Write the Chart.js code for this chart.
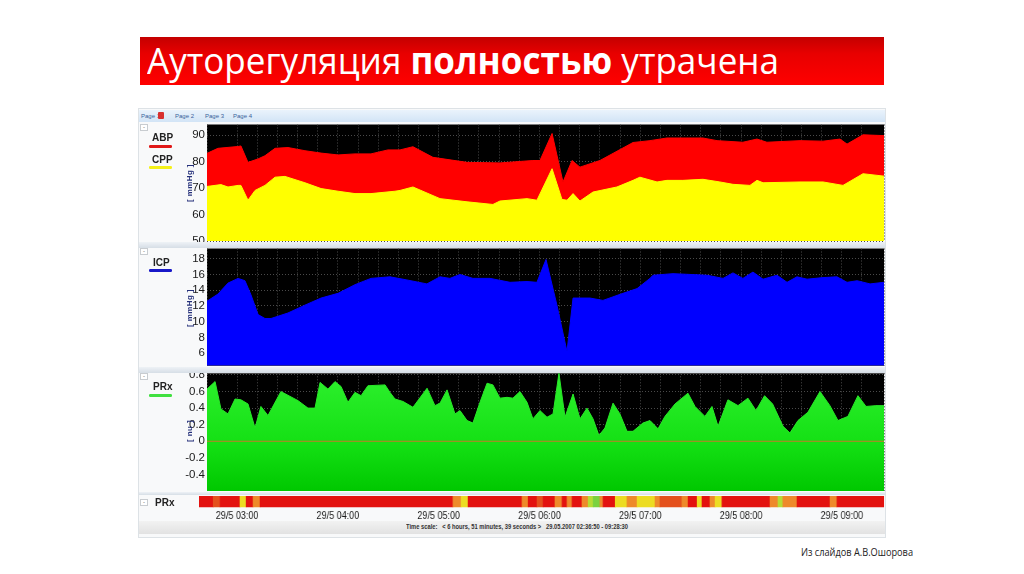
<!DOCTYPE html>
<html><head><meta charset="utf-8">
<script src="https://cdn.jsdelivr.net/npm/chart.js@4.4.1/dist/chart.umd.min.js"></script>
<style>
html,body{margin:0;padding:0}
body{width:1024px;height:574px;position:relative;overflow:hidden;background:#fff;font-family:'Liberation Sans',Arial,sans-serif}
.a{position:absolute}
#banner{left:140px;top:37px;width:744px;height:48px;background:linear-gradient(180deg,#c40000 0%,#e80000 35%,#ff0000 100%)}
#titleText{left:147px;top:35px;color:#fff;font-family:'Open Sans',sans-serif;font-size:37px;white-space:nowrap;transform-origin:0 0;line-height:50px}
#panel{left:138px;top:108px;width:748px;height:430px;background:#f8f9fa;border:1px solid #dde2e6;box-sizing:border-box}
#tabs{left:139px;top:110px;width:746px;height:12px;background:linear-gradient(#eaf3fc,#d2e4f6)}
.tab{font-size:6px;color:#3a5f9a;top:113px;white-space:nowrap}
.lg{font-family:'Liberation Sans Narrow','Liberation Sans',sans-serif;font-weight:bold;font-size:10px;color:#222;line-height:10px}
.bar{height:2.5px;border-radius:1.2px;width:23px;left:149px}
.unit{font-size:8px;font-weight:bold;color:#25307a;transform:rotate(-90deg);white-space:nowrap;text-align:center;width:50px;height:8px;line-height:8px;letter-spacing:0.4px}
.btn{width:6px;height:5px;border:1px solid #c8ccd0;background:#fff;font-size:6px;line-height:4px;text-align:center;color:#555}
.sep{left:139px;width:746px;background:linear-gradient(#eef2f6,#d6dee6);z-index:2}
#tscale{left:139px;top:521px;width:746px;height:13px;background:linear-gradient(#f2f2f2,#e2e2e2)}
#tstext{left:406px;top:523px;font-size:6.5px;font-weight:bold;color:#333;white-space:nowrap;transform-origin:0 0}
#caption{left:801px;top:545px;font-family:'Open Sans',sans-serif;font-size:10px;color:#222;white-space:nowrap;transform-origin:0 0}
canvas{position:absolute}
</style></head><body>
<div id="banner" class="a"></div>
<div id="titleText" class="a">Ауторегуляция <b>полностью</b> утрачена</div>
<div id="panel" class="a"></div>
<div id="tabs" class="a"></div>
<div class="a tab" style="left:141px">Page 1</div>
<div class="a" style="left:158px;top:112px;width:6px;height:7px;background:#d83030;border-radius:1px"></div>
<div class="a tab" style="left:175px">Page 2</div>
<div class="a tab" style="left:205px">Page 3</div>
<div class="a tab" style="left:233px">Page 4</div>

<canvas id="c1" width="750" height="123" style="left:138px;top:121px"></canvas>
<canvas id="c2" width="750" height="122" style="left:138px;top:246px"></canvas>
<canvas id="c3" width="750" height="123" style="left:138px;top:371px"></canvas>
<canvas id="c4" width="840" height="27" style="left:199px;top:496px;width:689px;height:27px"></canvas>

<div class="a sep" style="top:242px;height:6px"></div>
<div class="a sep" style="top:367px;height:6px"></div>
<div class="a sep" style="top:492px;height:3px"></div>

<div class="a btn" style="left:140px;top:124px">-</div>
<div class="a btn" style="left:140px;top:248px;z-index:3">-</div>
<div class="a btn" style="left:140px;top:373px;z-index:3">-</div>
<div class="a btn" style="left:140px;top:499px">-</div>

<div class="a lg" style="left:152px;top:133px">ABP</div>
<div class="a bar" style="top:145px;background:#e01818"></div>
<div class="a lg" style="left:152px;top:155px">CPP</div>
<div class="a bar" style="top:166px;background:#f4f018"></div>
<div class="a lg" style="left:153px;top:258px">ICP</div>
<div class="a bar" style="top:269px;background:#1818c8"></div>
<div class="a lg" style="left:153px;top:382px">PRx</div>
<div class="a bar" style="top:394px;background:#40e040"></div>
<div class="a lg" style="left:155px;top:498px">PRx</div>

<div class="a unit" style="left:165px;top:179px">[ mmHg ]</div>
<div class="a unit" style="left:165px;top:304px">[ mmHg ]</div>
<div class="a unit" style="left:165px;top:427px">[ nu ]</div>

<div id="tscale" class="a"></div>
<div id="tstext" class="a">Time scale:&nbsp;&nbsp; &lt; 6 hours, 51 minutes, 39 seconds &gt;&nbsp;&nbsp; 29.05.2007 02:36:50 - 09:28:30</div>
<div id="caption" class="a">Из слайдов А.В.Ошорова</div>

<script>
// time in minutes after 02:00 on 29/5
const X_MIN = 42.1, X_MAX = 445.1, HEAT_MIN = 37.3;
const hourTicks = [60,120,180,240,300,360,420];

const abp = [[42.1,83.1],[48.6,85],[60.6,85.7],[62.3,85.9],[66.5,79.7],[72.5,81],[76.6,82.2],[82.6,85],[90.3,85.3],[100.4,84.1],[110,83.2],[120.1,82.5],[130.2,82.9],[139.7,82.9],[149.8,84.4],[157,84.4],[164.7,85.6],[176.6,81.6],[196.9,79.7],[216.5,79.5],[236.1,80.4],[240.3,80.4],[247.5,90.6],[254,72.3],[259.4,80.4],[264.1,77.9],[276,80.4],[295.7,87.2],[305.8,87.9],[315.9,88.9],[325.4,88.9],[337.3,88.9],[345.7,87.9],[361.1,87.3],[369.5,88.5],[375.4,87.3],[395.1,87.9],[408.8,87.7],[418.9,88.5],[423.1,86.6],[432.6,90.1],[445.1,89.8]];
const cpp = [[42.1,70.6],[50.4,71.3],[54.6,70.4],[60.6,71],[62.3,71],[66.5,65.4],[70.7,69.1],[76.6,71],[82.6,74.1],[88.5,74.4],[100.4,72],[110,69.8],[120.1,68.8],[130.2,67.9],[139.7,67.9],[154,68.8],[157,69.1],[164.7,70.4],[180.8,66],[196.9,64.8],[212.3,63.8],[216.5,65.1],[232.6,66],[238.5,65.4],[247.5,77.3],[253.4,65.7],[256.4,65.4],[260,67.9],[264.1,65.1],[271.9,68.5],[286.1,70.4],[295.7,72.9],[299.8,74.1],[310,72.3],[315.9,72.9],[325.4,72.9],[337.3,73.3],[347.4,72.3],[355.2,71.4],[365.3,71],[369.5,72.9],[373.1,72],[395.1,72.3],[408.8,72.3],[420.7,71],[432.6,75.4],[445.1,74.5]];
const icp = [[42.1,12.6],[48.6,13.5],[54.6,14.9],[60.6,15.5],[64.7,15.2],[68.3,13.4],[72.5,10.9],[76.6,10.4],[80.2,10.4],[90.3,11.1],[100.4,12.1],[110,13],[120.1,13.6],[130.2,14.7],[139.7,15.5],[151,15.7],[161.1,15.3],[173,14.8],[180.8,15.7],[186.7,15.5],[192.7,16],[200.4,15.5],[210.6,15.5],[222.5,15],[232.6,15.1],[238.5,15],[243.9,17.9],[250.4,12.1],[256.4,6.2],[260,13],[270.1,13],[277.8,12.7],[289.7,13.6],[298.1,14.2],[305.8,15.5],[307.6,15.9],[319.5,16.1],[339.8,15.9],[349.3,15.5],[355.2,16.2],[361.1,15.5],[367.1,16.3],[373.1,15.4],[381.4,15.9],[387.4,15],[393.3,15.7],[399.3,15.4],[408.8,15.6],[417.1,15.7],[423.1,15],[429.1,15.2],[436.8,14.8],[445.1,15]];
const prx = [[42.1,0.63],[46.9,0.72],[50.4,0.39],[54.6,0.33],[58.8,0.51],[62.3,0.5],[66.5,0.45],[70.7,0.16],[74.2,0.42],[78.4,0.31],[86.1,0.6],[96.3,0.49],[102.2,0.4],[106.4,0.4],[109.4,0.71],[114.1,0.63],[118.3,0.72],[121.9,0.66],[126,0.47],[130.2,0.59],[133.8,0.55],[137.9,0.67],[148.1,0.68],[151,0.59],[154,0.51],[158.8,0.48],[164.7,0.41],[173.1,0.64],[177.8,0.43],[180.8,0.46],[185,0.62],[189.7,0.33],[192.7,0.37],[196.9,0.25],[200.4,0.22],[204.6,0.47],[208.8,0.7],[212.3,0.68],[216.5,0.52],[220.7,0.53],[224.2,0.52],[228.4,0.6],[232.6,0.47],[236.1,0.27],[240.3,0.37],[244.5,0.29],[248.1,0.33],[251.6,0.82],[255.2,0.29],[260,0.57],[264.1,0.27],[268.3,0.4],[271.9,0.27],[275.4,0.07],[279,0.16],[283.8,0.46],[287.9,0.33],[292.1,0.12],[295.7,0.12],[301.6,0.22],[305.8,0.25],[310.6,0.15],[314.7,0.3],[320.7,0.45],[328.4,0.58],[332.6,0.42],[338.5,0.3],[342.7,0.42],[346.3,0.18],[352.2,0.5],[358.2,0.43],[364.1,0.52],[368.9,0.37],[374,0.55],[378.8,0.45],[385,0.18],[389.1,0.1],[393.9,0.25],[399.8,0.35],[407,0.6],[412.9,0.43],[417.7,0.25],[423.6,0.3],[429.6,0.55],[434.4,0.42],[440.3,0.43],[445.1,0.43]];

// PRx colour bar: segment start times and PRx class (0 = high/red ... 5 = low/green)
const heatStart = [37.3,45.7,49.8,61.7,65.3,69.5,73.6,188.5,193.3,197.5,229.6,233.2,238.5,242.1,249.2,253.4,256.4,259.4,265.3,268.9,271.9,276,277.8,285,292.1,298.1,308.8,311.7,324.8,328.4,333.8,336.7,341.5,344.5,348.6,377.2,382,384.9,393.3,412.9,417.1];
const heatLevel = [0,1,0,3,0,2,0,2,3,0,2,0,1,0,2,0,2,0,2,4,5,2,0,3,2,3,2,1,2,0,3,0,2,3,0,2,4,2,0,2,0];
const heatColors = ['#e3120f','#e4501c','#ee8a2a','#ecdc22','#b6dc34','#7ad23e'];

const NARROW = "'Liberation Sans Narrow','Liberation Sans',sans-serif";
const pts = arr => arr.map(p => ({x:p[0], y:p[1]}));

const blackBg = {
  id:'blackBg',
  beforeDraw(chart){
    const a = chart.chartArea, c = chart.ctx;
    c.save(); c.fillStyle = '#000'; c.fillRect(a.left, a.top, a.right-a.left, a.bottom-a.top); c.restore();
  }
};

function opts(yMin, yMax, yStep, pad){
  return {
    responsive:false, animation:false, events:[],
    layout:{padding:pad, autoPadding:false},
    plugins:{legend:{display:false}, tooltip:{enabled:false}},
    elements:{point:{radius:0}, line:{tension:0}},
    scales:{
      x:{type:'linear', min:X_MIN, max:X_MAX,
         ticks:{display:false, stepSize:12},
         grid:{color:'#4a4a4a', lineWidth:1, drawTicks:false},
         border:{display:false, dash:[1,2]},
         afterFit(s){ s.height = 0; s.paddingLeft = 0; s.paddingRight = 0; }},
      y:{min:yMin, max:yMax,
         ticks:{stepSize:yStep, includeBounds:false, color:'#1a1a1a', padding:2,
                font:{family:NARROW, size:11.5}},
         grid:{color:'#4a4a4a', lineWidth:1, drawTicks:false},
         border:{display:false, dash:[1,2]},
         afterFit(s){ s.width = 69; s.paddingTop = 0; s.paddingBottom = 0; }}
    }
  };
}

new Chart(document.getElementById('c1'), {
  type:'line',
  data:{datasets:[
    {label:'CPP', data:pts(cpp), borderColor:'#ffff00', borderWidth:1, backgroundColor:'#ffff00', fill:'start'},
    {label:'ABP', data:pts(abp), borderColor:'#ff0000', borderWidth:1, backgroundColor:'#ff0000', fill:'start'}
  ]},
  options:opts(50, 94, 10, {left:0, right:4, top:3.5, bottom:3}),
  plugins:[blackBg]
});

new Chart(document.getElementById('c2'), {
  type:'line',
  data:{datasets:[
    {label:'ICP', data:pts(icp), borderColor:'#0000ff', borderWidth:1, backgroundColor:'#0000ff', fill:'start'}
  ]},
  options:opts(4.4, 19.3, 2, {left:0, right:4, top:2.5, bottom:2.3}),
  plugins:[blackBg]
});

const c3 = document.getElementById('c3');
const g = c3.getContext('2d').createLinearGradient(0, 2, 0, 120);
g.addColorStop(0, '#2ef02e'); g.addColorStop(0.6, '#14e014'); g.addColorStop(1, '#00c800');
new Chart(c3, {
  type:'line',
  data:{datasets:[
    {label:'zero', data:[{x:X_MIN,y:0},{x:X_MAX,y:0}], borderColor:'#c8782a', borderWidth:1.2, fill:false},
    {label:'PRx', data:pts(prx), borderColor:'#28e828', borderWidth:1, backgroundColor:g, fill:'start'}
  ]},
  options:opts(-0.6, 0.82, 0.2, {left:0, right:4, top:2.3, bottom:3}),
  plugins:[blackBg]
});

// colour bar canvas is drawn 840 wide and shown 689 wide (narrow time labels)
const heatEnd = heatStart.slice(1).concat([X_MAX]);
new Chart(document.getElementById('c4'), {
  type:'bar',
  data:{labels:['PRx'], datasets:[{
    data: heatStart.map((s,i) => ({x:[s, heatEnd[i]], y:'PRx'})),
    backgroundColor: heatLevel.map(l => heatColors[l]),
    borderWidth:0, barThickness:11, grouped:false
  }]},
  options:{
    indexAxis:'y', responsive:false, animation:false, events:[],
    layout:{padding:{left:0, right:4.9, top:0, bottom:0}, autoPadding:false},
    plugins:{legend:{display:false}, tooltip:{enabled:false}},
    scales:{
      x:{type:'linear', min:HEAT_MIN, max:X_MAX,
         afterBuildTicks(s){ s.ticks = hourTicks.map(v => ({value:v})); },
         ticks:{autoSkip:false, maxRotation:0, padding:2, color:'#1a1a1a',
                font:{family:NARROW, size:11},
                callback(v){ const h = 2 + v/60; return '29/5 ' + String(h).padStart(2,'0') + ':00'; }},
         grid:{display:false, drawTicks:false}, border:{display:false},
         afterFit(s){ s.height = 15.5; s.paddingLeft = 0; s.paddingRight = 0; }},
      y:{display:false}
    }
  }
});

// fit title, caption and time-scale text widths to the slide
function fit(id, w){
  const el = document.getElementById(id);
  const r = el.getBoundingClientRect().width;
  el.style.transform = 'scaleX(' + (w / r) + ')';
}
fit('titleText', 632);
fit('caption', 112);
fit('tstext', 222);
</script>
</body></html>
